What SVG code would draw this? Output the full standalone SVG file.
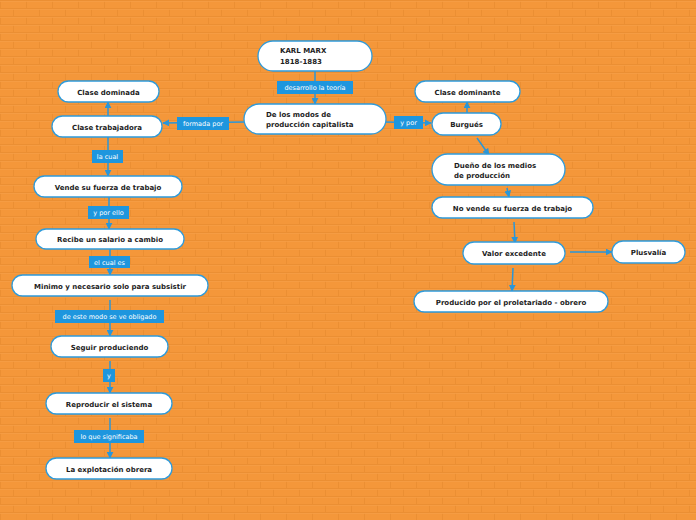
<svg xmlns="http://www.w3.org/2000/svg" width="696" height="520" viewBox="0 0 696 520">
<defs>
<pattern id="brick" width="26" height="16" patternUnits="userSpaceOnUse">
<rect width="26" height="16" fill="#F4973A"/>
<path d="M0 0.5H26M0 8.5H26M0.5 0V8M13.5 8V16" stroke="#EB8F33" stroke-width="1" fill="none"/>
<path d="M0 1.5H26M0 9.5H26" stroke="#F59D45" stroke-width="0.8" fill="none"/>
</pattern>
<marker id="ah" viewBox="0 0 10 10" refX="9" refY="5" markerWidth="7" markerHeight="7" markerUnits="userSpaceOnUse" orient="auto">
<path d="M0 0L10 5L0 10Z" fill="#2A96D8"/>
</marker>
<style>
.n rect{fill:#fff;stroke:#2E9BDB;stroke-width:1.3}
.n text{font-family:"DejaVu Sans",Verdana,sans-serif;font-weight:bold;font-size:7px;fill:#1d1d1d}
.c line{stroke:#2A96D8;stroke-width:1.5;marker-end:url(#ah)}
.l rect{fill:#1E96DE}
.l text{font-family:"DejaVu Sans",Verdana,sans-serif;font-size:6.5px;fill:#fff;text-anchor:middle}
.m{text-anchor:middle}
</style>
</defs>
<rect width="696" height="520" fill="url(#brick)"/>

<g id="connectors" class="c">
<line x1="315" y1="71" x2="315" y2="104"/>
<line x1="244" y1="122" x2="163" y2="123"/>
<line x1="386" y1="122" x2="431" y2="123"/>
<line x1="108" y1="116" x2="108" y2="102"/>
<line x1="108" y1="137" x2="108" y2="176"/>
<line x1="109" y1="197" x2="109" y2="229"/>
<line x1="110" y1="249" x2="110" y2="275"/>
<line x1="110" y1="300" x2="110" y2="336"/>
<line x1="110" y1="361" x2="110" y2="393"/>
<line x1="110" y1="418" x2="110" y2="458"/>
<line x1="467" y1="113" x2="467" y2="102"/>
<line x1="477" y1="138" x2="489" y2="155"/>
<line x1="507" y1="188" x2="509" y2="197"/>
<line x1="514" y1="222" x2="515" y2="243"/>
<line x1="570" y1="252" x2="612" y2="252"/>
<line x1="513" y1="268" x2="512" y2="291"/>
</g>

<g id="labels" class="l">
<g id="lbl-desarrollo"><rect x="277" y="81" width="76" height="13"/><text x="315" y="90">desarrollo la teoría</text></g>
<g id="lbl-formada"><rect x="177" y="117" width="52" height="13"/><text x="203" y="126">formada por</text></g>
<g id="lbl-ypor"><rect x="394" y="116" width="29" height="13"/><text x="408.5" y="125">y por</text></g>
<g id="lbl-lacual"><rect x="92" y="150" width="31" height="13"/><text x="107.5" y="159">la cual</text></g>
<g id="lbl-yporello"><rect x="88" y="206" width="41" height="13"/><text x="108.5" y="215">y por ello</text></g>
<g id="lbl-elcuales"><rect x="89" y="256" width="41" height="12"/><text x="109.5" y="264.5">el cual es</text></g>
<g id="lbl-deeste"><rect x="55" y="310" width="109" height="13"/><text x="109.5" y="319">de este modo se ve obligado</text></g>
<g id="lbl-y"><rect x="103" y="369" width="12" height="13"/><text x="109" y="378">y</text></g>
<g id="lbl-loque"><rect x="74" y="430" width="70" height="13"/><text x="109" y="439">lo que significaba</text></g>
</g>

<g id="n-marx" class="n"><rect x="258" y="41" width="114" height="30" rx="15"/><text x="280" y="53">KARL MARX</text><text x="280" y="64">1818-1883</text></g>
<g id="n-modos" class="n"><rect x="244" y="104" width="142" height="30" rx="15"/><text x="266" y="117">De los modos de</text><text x="266" y="127">producción capitalista</text></g>
<g id="n-dominada" class="n"><rect x="58" y="81" width="101" height="21" rx="10.5"/><text class="m" x="108.5" y="94.5">Clase dominada</text></g>
<g id="n-trabajadora" class="n"><rect x="52" y="116" width="110" height="21" rx="10.5"/><text class="m" x="107" y="129.5">Clase trabajadora</text></g>
<g id="n-vende" class="n"><rect x="34" y="176" width="148" height="21" rx="10.5"/><text class="m" x="108" y="189.5">Vende su fuerza de trabajo</text></g>
<g id="n-recibe" class="n"><rect x="36" y="229" width="148" height="20" rx="10"/><text class="m" x="110" y="241.5">Recibe un salario a cambio</text></g>
<g id="n-minimo" class="n"><rect x="12" y="275" width="196" height="21" rx="10.5"/><text class="m" x="110" y="288.5">Minimo y necesario solo para subsistir</text></g>
<g id="n-seguir" class="n"><rect x="51" y="336" width="117" height="21" rx="10.5"/><text class="m" x="109.5" y="349.5">Seguir produciendo</text></g>
<g id="n-reproducir" class="n"><rect x="46" y="393" width="126" height="21" rx="10.5"/><text class="m" x="109" y="406.5">Reproducir el sistema</text></g>
<g id="n-explotacion" class="n"><rect x="46" y="458" width="126" height="21" rx="10.5"/><text class="m" x="109" y="471.5">La explotación obrera</text></g>
<g id="n-dominante" class="n"><rect x="415" y="81" width="105" height="21" rx="10.5"/><text class="m" x="467.5" y="94.5">Clase dominante</text></g>
<g id="n-burgues" class="n"><rect x="432" y="113" width="69" height="22" rx="11"/><text class="m" x="466.5" y="126.5">Burgués</text></g>
<g id="n-dueno" class="n"><rect x="432" y="154" width="133" height="31" rx="15.5"/><text x="454" y="167.5">Dueño de los medios</text><text x="454" y="177.5">de producción</text></g>
<g id="n-novende" class="n"><rect x="432" y="197" width="161" height="21" rx="10.5"/><text class="m" x="512.5" y="210.5">No vende su fuerza de trabajo</text></g>
<g id="n-valor" class="n"><rect x="463" y="242" width="102" height="22" rx="11"/><text class="m" x="514" y="255.5">Valor excedente</text></g>
<g id="n-plusvalia" class="n"><rect x="612" y="241" width="73" height="22" rx="11"/><text class="m" x="648.5" y="254.5">Plusvalía</text></g>
<g id="n-producido" class="n"><rect x="414" y="291" width="194" height="21" rx="10.5"/><text class="m" x="511" y="304.5">Producido por el proletariado - obrero</text></g>
</svg>
